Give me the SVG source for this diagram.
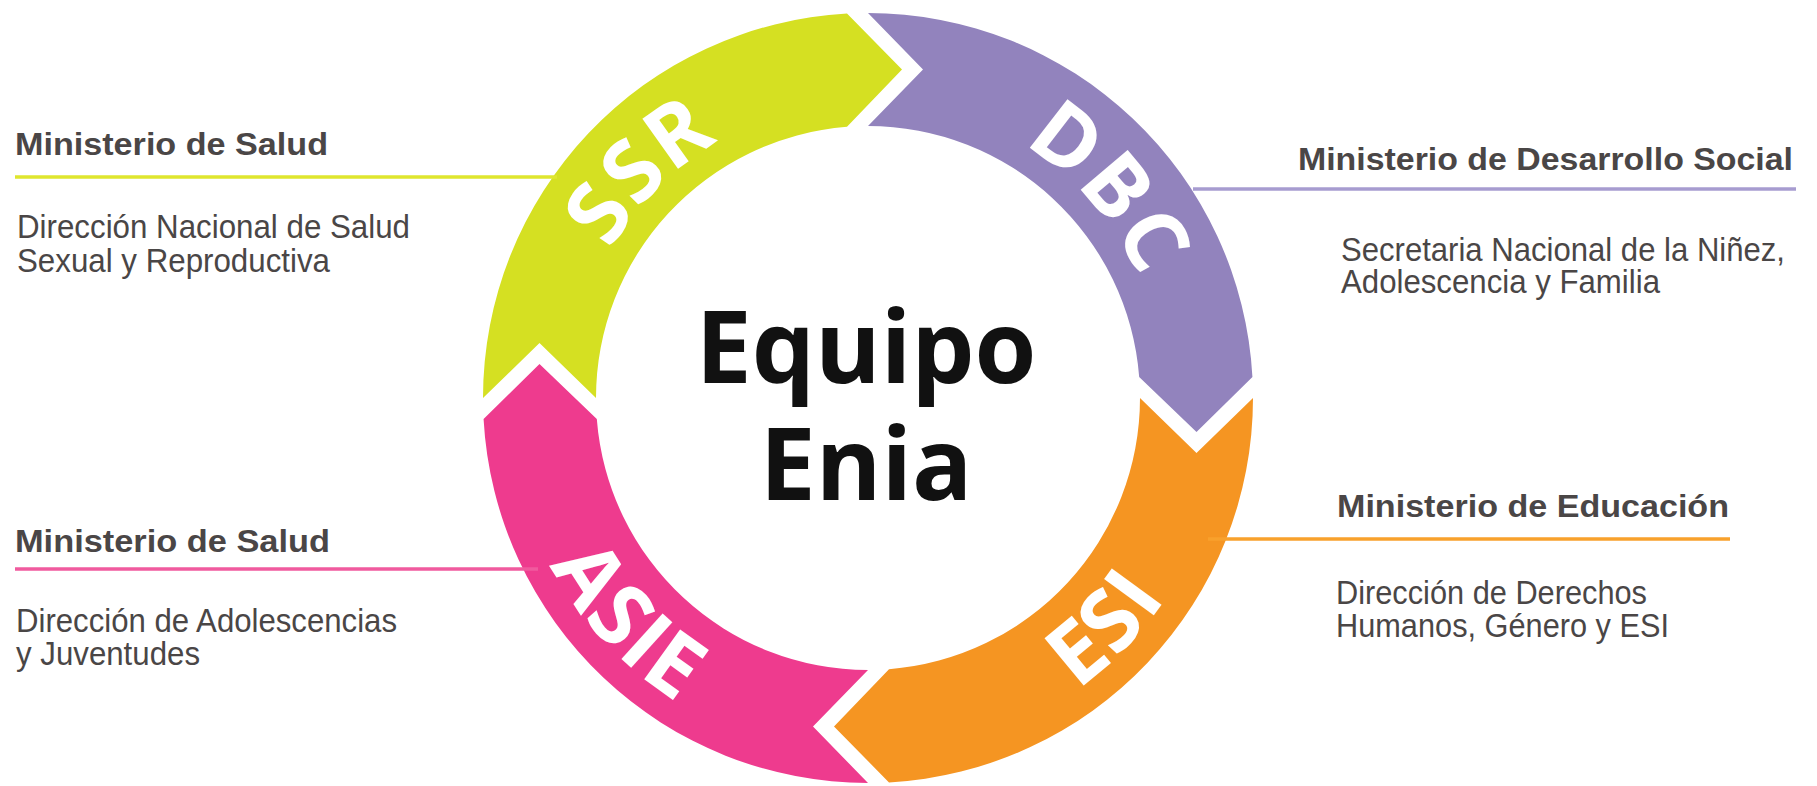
<svg xmlns="http://www.w3.org/2000/svg" width="1817" height="786" viewBox="0 0 1817 786">
<style>
.title{font-family:"Liberation Sans",Arial,sans-serif;font-weight:700;font-size:31px;fill:#4a4646}
.body{font-family:"Liberation Sans",Arial,sans-serif;font-size:33px;fill:#4a4646}
.ring{font-family:"Open Sans","Noto Sans",sans-serif;font-weight:700;font-size:86px;letter-spacing:2px;fill:#ffffff}
.center{font-family:"Open Sans","Noto Sans",sans-serif;font-weight:700;font-size:100px;fill:#111111}
.conn{fill:none;stroke-width:3.5}
</style>
<defs>
<path id="seg" d="M -385 0 A 385 385 0 0 1 -21 -384.43 L 34 -328.5 L -21 -271.19 A 272 272 0 0 0 -272 0 L -328.5 -55 Z"/>
<path id="arc-ssr" d="M 581.2 474.8 A 297 297 0 0 1 944.9 111.1"/>
<path id="arc-dbc" d="M 811.3 106.5 A 297 297 0 0 1 1148.8 494.7"/>
<path id="arc-esi" d="M 781.2 746.3 A 359 359 0 0 0 1213.1 299.0"/>
<path id="arc-asie" d="M 524.7 293.0 A 359 359 0 0 0 948.8 747.8"/>
</defs>
<rect width="1817" height="786" fill="#ffffff"/>

<g id="seg-ssr">
<use href="#seg" transform="translate(868 398)" fill="#d5e022"/>
<text class="ring"><textPath href="#arc-ssr" startOffset="50%" text-anchor="middle">SSR</textPath></text>
</g>
<g id="seg-dbc">
<use href="#seg" transform="translate(868 398) rotate(90)" fill="#9283bd"/>
<text class="ring"><textPath href="#arc-dbc" startOffset="50%" text-anchor="middle">DBC</textPath></text>
</g>
<g id="seg-esi">
<use href="#seg" transform="translate(868 398) rotate(180)" fill="#f59522"/>
<text class="ring"><textPath href="#arc-esi" startOffset="50%" text-anchor="middle">ESI</textPath></text>
</g>
<g id="seg-asie">
<use href="#seg" transform="translate(868 398) rotate(270)" fill="#ee3b8e"/>
<text class="ring"><textPath href="#arc-asie" startOffset="50%" text-anchor="middle">ASIE</textPath></text>
</g>

<g id="center">
<text class="center" x="866" y="383" text-anchor="middle">Equipo</text>
<text class="center" x="866" y="500" text-anchor="middle">Enia</text>
</g>

<g id="connectors">
<line class="conn" x1="15" y1="177" x2="557" y2="177" stroke="#dfe62e"/>
<line class="conn" x1="15" y1="569" x2="538" y2="569" stroke="#f05a9e"/>
<line class="conn" x1="1193" y1="189" x2="1796" y2="189" stroke="#a79cd0"/>
<line class="conn" x1="1208" y1="539" x2="1730" y2="539" stroke="#f8a12c"/>
</g>

<g id="node-salud-ssr">
<text class="title" x="15" y="155" textLength="313" lengthAdjust="spacingAndGlyphs">Ministerio de Salud</text>
<text class="body" x="17" y="238" textLength="393" lengthAdjust="spacingAndGlyphs">Dirección Nacional de Salud</text>
<text class="body" x="17" y="272" textLength="313" lengthAdjust="spacingAndGlyphs">Sexual y Reproductiva</text>
</g>
<g id="node-salud-asie">
<text class="title" x="15" y="552" textLength="315" lengthAdjust="spacingAndGlyphs">Ministerio de Salud</text>
<text class="body" x="16" y="632" textLength="381" lengthAdjust="spacingAndGlyphs">Dirección de Adolescencias</text>
<text class="body" x="16" y="665" textLength="184" lengthAdjust="spacingAndGlyphs">y Juventudes</text>
</g>
<g id="node-desarrollo">
<text class="title" x="1298" y="170" textLength="495" lengthAdjust="spacingAndGlyphs">Ministerio de Desarrollo Social</text>
<text class="body" x="1341" y="261" textLength="444" lengthAdjust="spacingAndGlyphs">Secretaria Nacional de la Niñez,</text>
<text class="body" x="1341" y="293" textLength="319" lengthAdjust="spacingAndGlyphs">Adolescencia y Familia</text>
</g>
<g id="node-educacion">
<text class="title" x="1337" y="517" textLength="392" lengthAdjust="spacingAndGlyphs">Ministerio de Educación</text>
<text class="body" x="1336" y="604" textLength="311" lengthAdjust="spacingAndGlyphs">Dirección de Derechos</text>
<text class="body" x="1336" y="637" textLength="333" lengthAdjust="spacingAndGlyphs">Humanos, Género y ESI</text>
</g>
</svg>
